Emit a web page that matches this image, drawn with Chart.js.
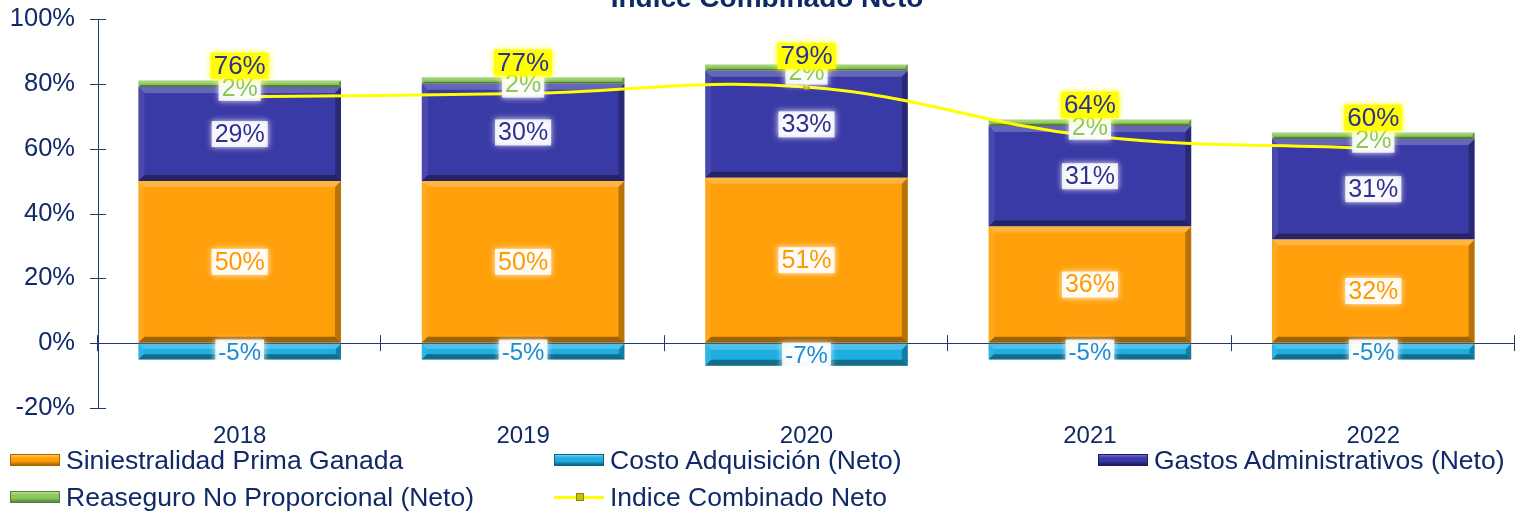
<!DOCTYPE html>
<html lang="es">
<head>
  <meta charset="UTF-8" />
  <title>Indice Combinado Neto</title>
  <script src="https://cdn.jsdelivr.net/npm/chart.js"></script>
  <style>
    body {
      margin: 0;
      background: #ffffff;
      font-family: 'Liberation Sans', Arial, sans-serif;
    }

    .wrap {
      position: relative;
      width: 1520px;
      height: 513px;
      overflow: hidden;
    }

    #chart {
      position: absolute;
      left: 0;
      top: 0;
    }

    .item {
      position: absolute;
      display: flex;
      align-items: center;
      height: 30px;
      font-size: 26.5px;
      color: #102a67;
      white-space: nowrap;
    }

    .sw {
      position: relative;
      width: 50px;
      height: 12px;
      margin-right: 6px;
      box-sizing: border-box;
    }

    .sw.line::before {
      content: '';
      position: absolute;
      left: 0;
      right: 0;
      top: 5px;
      height: 3px;
      background: #ffff00;
    }

    .sw.line::after {
      content: '';
      position: absolute;
      left: 22px;
      top: 2px;
      width: 8px;
      height: 8px;
      background: #c8c000;
      border: 1px solid #8a8a00;
      box-sizing: border-box;
    }
  </style>
</head>
<body>
  <div class="wrap">
    <canvas id="chart" width="1520" height="513"></canvas>
    <div id="legend"></div>
  </div>

  <script>
    // data
    const years = ['2018', '2019', '2020', '2021', '2022'];
    const siniestralidad = [50, 50, 51, 36, 32];
    const costoAdquisicion = [-5, -5, -7, -5, -5];
    const gastosAdmin = [29, 30, 33, 31, 31];
    const reaseguroNP = [2, 2, 2, 2, 2];
    const indiceCombinado = [76, 77, 79, 64, 60];
    const yTicks = [-20, 0, 20, 40, 60, 80, 100];
    const seriesNames = [
      'Siniestralidad Prima Ganada',
      'Costo Adquisición (Neto)',
      'Gastos Administrativos (Neto)',
      'Reaseguro No Proporcional (Neto)',
      'Indice Combinado Neto'
    ];

    const axisColor = '#1f3a72';
    const textColor = '#102a67';
    const fontFamily = "'Liberation Sans', Arial, sans-serif";

    // bevel look on every bar, drawn right after its dataset
    const bevel = {
      id: 'bevel',
      afterDatasetDraw(chart, args) {
        const meta = args.meta;
        if (meta.type !== 'bar') return;
        const ctx = chart.ctx;
        meta.data.forEach(bar => {
          const p = bar.getProps(['x', 'y', 'base', 'width'], true);
          const l = p.x - p.width / 2, r = p.x + p.width / 2;
          const t = Math.min(p.y, p.base), b = Math.max(p.y, p.base);
          const e = Math.min(6, (b - t) / 3);
          ctx.save();
          ctx.fillStyle = 'rgba(255,255,255,0.22)';
          ctx.beginPath();
          ctx.moveTo(l, t); ctx.lineTo(r, t); ctx.lineTo(r - e, t + e); ctx.lineTo(l + e, t + e);
          ctx.fill();
          ctx.fillStyle = 'rgba(255,255,255,0.08)';
          ctx.beginPath();
          ctx.moveTo(l, t); ctx.lineTo(l + e, t + e); ctx.lineTo(l + e, b - e); ctx.lineTo(l, b);
          ctx.fill();
          ctx.fillStyle = 'rgba(0,0,0,0.28)';
          ctx.beginPath();
          ctx.moveTo(r, t); ctx.lineTo(r, b); ctx.lineTo(r - e, b - e); ctx.lineTo(r - e, t + e);
          ctx.fill();
          ctx.fillStyle = 'rgba(0,0,0,0.38)';
          ctx.beginPath();
          ctx.moveTo(l, b); ctx.lineTo(r, b); ctx.lineTo(r - e, b - e); ctx.lineTo(l + e, b - e);
          ctx.fill();
          ctx.restore();
        });
      }
    };

    // tick marks that cross the axes
    const crossTicks = {
      id: 'crossTicks',
      beforeDatasetsDraw(chart) {
        const { ctx, scales: { x, y } } = chart;
        ctx.save();
        ctx.strokeStyle = axisColor;
        ctx.lineWidth = 1;
        ctx.beginPath();
        y.ticks.forEach(t => {
          const py = Math.round(y.getPixelForValue(t.value)) + 0.5;
          ctx.moveTo(x.left - 8, py);
          ctx.lineTo(x.left + 8, py);
        });
        const y0 = y.getPixelForValue(0);
        for (let i = 0; i <= years.length; i++) {
          const px = Math.round(x.getPixelForValue(i - 0.5)) - 0.5;
          ctx.moveTo(px, y0 - 8);
          ctx.lineTo(px, y0 + 8);
        }
        ctx.stroke();
        ctx.restore();
      }
    };

    function labelBox(ctx, txt, x, y, bg, glow) {
      const w = ctx.measureText(txt).width;
      ctx.save();
      ctx.shadowColor = glow;
      ctx.shadowBlur = 6;
      ctx.fillStyle = bg;
      ctx.fillRect(x - w / 2 - 3, y - 13, w + 6, 26);
      ctx.restore();
    }

    // value labels for bars and for the line
    const valueLabels = {
      id: 'valueLabels',
      afterDatasetsDraw(chart) {
        const ctx = chart.ctx;
        chart.data.datasets.forEach((ds, i) => {
          const meta = chart.getDatasetMeta(i);
          ctx.save();
          ctx.font = ds.labelFont;
          ctx.textAlign = 'center';
          ctx.textBaseline = 'middle';
          meta.data.forEach((el, j) => {
            const txt = ds.data[j] + '%';
            let x = el.x, y;
            if (meta.type === 'bar') {
              y = (el.y + el.base) / 2 + ds.labelShift;
              labelBox(ctx, txt, x, y, 'rgba(255,255,255,0.85)', 'rgba(255,255,255,1)');
            } else {
              y = el.y - 31;
              labelBox(ctx, txt, x, y, '#ffff00', 'rgba(255,255,0,1)');
            }
            ctx.fillStyle = ds.labelColor;
            ctx.fillText(txt, x, y + 1);
          });
          ctx.restore();
        });
      }
    };

    const titleText = {
      id: 'titleText',
      afterDraw(chart) {
        const ctx = chart.ctx;
        ctx.save();
        ctx.font = "bold 28px " + fontFamily;
        ctx.fillStyle = '#0d2a66';
        ctx.textAlign = 'center';
        ctx.textBaseline = 'alphabetic';
        ctx.fillText('Indice Combinado Neto', 767, 7);
        ctx.restore();
      }
    };

    const chart = new Chart(document.getElementById('chart'), {
      type: 'bar',
      data: {
        labels: years,
        datasets: [
          {
            label: seriesNames[0],
            data: siniestralidad,
            backgroundColor: '#ffa00a',
            labelColor: '#ff9900',
            labelFont: '25px ' + fontFamily,
            labelShift: 0
          },
          {
            label: seriesNames[1],
            data: costoAdquisicion,
            backgroundColor: '#1eaee2',
            labelColor: '#1e8bd0',
            labelFont: '24px ' + fontFamily,
            labelShift: 1
          },
          {
            label: seriesNames[2],
            data: gastosAdmin,
            backgroundColor: '#3a3aa6',
            labelColor: '#2e3192',
            labelFont: '25px ' + fontFamily,
            labelShift: 0
          },
          {
            label: seriesNames[3],
            data: reaseguroNP,
            backgroundColor: '#8dc85d',
            labelColor: '#8cc850',
            labelFont: '25px ' + fontFamily,
            labelShift: 4
          },
          {
            type: 'line',
            label: seriesNames[4],
            data: indiceCombinado,
            stack: 'line',
            order: -1,
            borderColor: '#ffff00',
            borderWidth: 3,
            tension: 0.4,
            pointStyle: 'rect',
            pointRadius: 3.5,
            pointBackgroundColor: '#c8c000',
            pointBorderColor: '#8a8a00',
            pointBorderWidth: 1,
            labelColor: '#2e3192',
            labelFont: '26px ' + fontFamily
          }
        ]
      },
      options: {
        responsive: false,
        animation: false,
        layout: { padding: { top: 19, right: 2, bottom: 60, left: 0 } },
        datasets: {
          bar: { categoryPercentage: 1, barPercentage: 0.715, borderWidth: 0 }
        },
        scales: {
          x: {
            stacked: true,
            grid: { display: false, drawTicks: false },
            border: { display: false },
            ticks: { color: textColor, padding: 14, font: { family: fontFamily, size: 24 } },
            afterFit: s => { s.height = 45; }
          },
          y: {
            stacked: true,
            min: -20,
            max: 100,
            afterBuildTicks: s => { s.ticks = yTicks.map(v => ({ value: v })); },
            grid: {
              drawTicks: true,
              tickLength: 23,
              tickColor: 'rgba(0,0,0,0)',
              color: c => (c.tick && c.tick.value === 0) ? axisColor : 'rgba(0,0,0,0)'
            },
            border: { display: true, color: axisColor },
            ticks: {
              color: textColor,
              padding: 0,
              font: { family: fontFamily, size: 25.5 },
              callback: v => v + '%'
            },
            afterFit: s => { s.width = 98; }
          }
        },
        plugins: {
          legend: { display: false },
          tooltip: { enabled: false }
        }
      },
      plugins: [bevel, crossTicks, valueLabels, titleText]
    });

    // legend laid out in a three column grid like the original
    const legendSwatches = [
      { bg: '#ffa00a', dark: '#a86400', light: '#ffc850' },
      { bg: '#1eaee2', dark: '#0b6382', light: '#6fd0f0' },
      { bg: '#3a3aa6', dark: '#1c1c5c', light: '#6a6ad0' },
      { bg: '#8dc85d', dark: '#55843a', light: '#b8e090' },
      null
    ];
    const legendSpots = [[10, 445], [554, 445], [1098, 445], [10, 482], [554, 482]];
    const legendEl = document.getElementById('legend');
    seriesNames.forEach((name, i) => {
      const item = document.createElement('div');
      item.className = 'item';
      item.style.left = legendSpots[i][0] + 'px';
      item.style.top = legendSpots[i][1] + 'px';
      const sw = document.createElement('span');
      const c = legendSwatches[i];
      if (c) {
        sw.className = 'sw';
        sw.style.background = `linear-gradient(to bottom, ${c.light} 0%, ${c.bg} 30%, ${c.bg} 60%, ${c.dark} 100%)`;
        sw.style.border = '1px solid ' + c.dark;
      } else {
        sw.className = 'sw line';
      }
      item.appendChild(sw);
      item.appendChild(document.createTextNode(name));
      legendEl.appendChild(item);
    });
  </script>
</body>
</html>
